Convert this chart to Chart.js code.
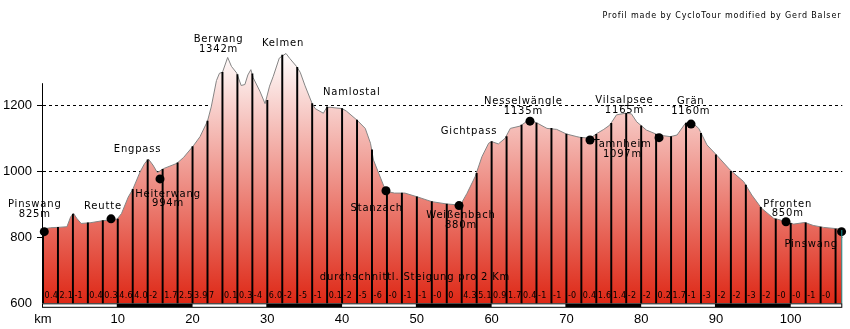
<!DOCTYPE html>
<html lang="de">
<head>
<meta charset="UTF-8">
<title>Höhenprofil Pinswang - Berwang - Tannheimer Tal</title>
<script src="https://cdn.jsdelivr.net/npm/chart.js@4.4.1/dist/chart.umd.min.js"></script>
<style>
  html, body { margin: 0; padding: 0; background: #fff; }
  #wrap { width: 850px; height: 329px; }
</style>
</head>
<body>
<div id="wrap"><canvas id="profil"></canvas></div>
<script>
// Höhenprofil: Kilometer / Höhe in m
const kmPoints = [0, 1, 1.9, 3.2, 3.7, 4.1, 4.5, 5.1, 6.3, 7.9, 9, 9.9, 10.5, 11.4, 12, 13, 13.6, 14.1, 14.7, 15.3,
  16.1, 17.9, 18.8, 20.1, 21, 22, 22.5, 23.2, 23.6, 24, 24.7, 25.2, 25.9, 26.5, 27, 27.4, 27.8, 28.1, 29, 29.7,
  30.3, 30.8, 31.6, 32.5, 33, 33.9, 34.4, 35.05, 36, 36.4, 37.5, 37.9, 38.4, 40, 40.6, 42, 43.1, 43.8, 44.2, 44.9,
  45.6, 46.2, 47, 48.4, 50, 52, 54, 55.1, 56, 56.7, 57.8, 58.7, 59.6, 60, 60.9, 61.8, 62.5, 63.8, 65, 66.1,
  67.4, 68.7, 70, 71.4, 71.8, 73.2, 74.1, 75, 75.8, 76.7, 77.9, 78.7, 79.4, 80.7, 82.3, 83.9, 84.8, 85.9, 86.7, 87.7,
  88.8, 90.1, 91.9, 93.7, 94.8, 96.1, 97.7, 99.5, 100.4, 101.9, 103, 104.4, 106.2, 106.9];
const elevations = [825, 829, 830, 832, 862, 872, 858, 842, 844, 850, 853, 855, 872, 922, 945, 999, 1024, 1037, 1019, 996,
  1008, 1024, 1042, 1077, 1105, 1152, 1195, 1275, 1297, 1300, 1345, 1318, 1298, 1260, 1263, 1292, 1308, 1284, 1243, 1205,
  1258, 1288, 1343, 1357, 1342, 1318, 1300, 1259, 1205, 1190, 1176, 1192, 1194, 1190, 1182, 1155, 1130, 1085, 1034, 994,
  954, 938, 934, 934, 923, 908, 901, 899, 905, 933, 984, 1044, 1085, 1090, 1083, 1100, 1130, 1137, 1156, 1146,
  1130, 1127, 1113, 1105, 1103, 1100, 1115, 1127, 1140, 1171, 1176, 1174, 1150, 1125, 1110, 1105, 1110, 1145, 1150, 1130,
  1080, 1049, 1004, 969, 928, 888, 858, 847, 840, 845, 836, 830, 826, 822];

// senkrechte Striche alle 2 km
const barKm = [0, 2, 4, 6, 8, 10, 12, 14, 16, 18, 20, 22, 24, 26, 28, 30, 32, 34, 36, 38, 40, 42, 44, 46, 48, 50, 52,
  54, 56, 58, 60, 62, 64, 66, 68, 70, 72, 74, 76, 78, 80, 82, 84, 86, 88, 90, 92, 94, 96, 98, 100, 102, 104, 106];
const barElev = [825, 830, 870, 844, 851, 855, 945, 1035, 1006, 1026, 1075, 1152, 1300, 1293, 1295, 1215, 1352, 1315,
  1205, 1195, 1190, 1155, 1065, 941, 934, 923, 908, 901, 905, 994, 1090, 1105, 1140, 1146, 1130, 1113, 1103, 1112,
  1145, 1176, 1138, 1112, 1105, 1146, 1115, 1050, 1000, 958, 891, 855, 842, 844, 831, 825];

// durchschnittl. Steigung pro 2 km (%)
const slopes = ['0.4', '2.1', '-1', '0.4', '0.3', '4.6', '4.0', '-2', '1.7', '2.5', '3.9', '7', '0.1', '0.3', '-4',
  '6.0', '-2', '-5', '-1', '0.1', '-2', '-5', '-6', '-0', '-1', '-1', '-0', '0', '4.3', '5.1', '0.9', '1.7', '0.4',
  '-1', '-1', '-0', '0.4', '1.6', '1.4', '-2', '-2', '0.2', '1.7', '-1', '-3', '-2', '-2', '-3', '-2', '-0', '-0',
  '-1', '-0'];

// Orte (Punkte)
const townKm = [0.17, 9.1, 15.65, 45.87, 55.64, 65.13, 73.16, 82.39, 86.67, 99.37, 106.8];
const townElev = [817, 856, 977, 941, 896, 1152, 1095, 1102, 1143, 847, 817];

const xTicks = [0, 10, 20, 30, 40, 50, 60, 70, 80, 90, 100];
const xTickLabels = ['km', '10', '20', '30', '40', '50', '60', '70', '80', '90', '100'];
const yTicks = [600, 800, 1000, 1200];

// Beschriftungen (Ankerpunkt in km / m)
const labelLayout = [
  { lines: ['Pinswang', '825m'], km: -1.1, elev: 891 },
  { lines: ['Reutte'], km: 8.02, elev: 885 },
  { lines: ['Engpass'], km: 12.64, elev: 1058 },
  { lines: ['Heiterwang', '994m'], km: 16.72, elev: 923 },
  { lines: ['Berwang', '1342m'], km: 23.47, elev: 1391 },
  { lines: ['Kelmen'], km: 32.1, elev: 1379 },
  { lines: ['Namlostal'], km: 41.3, elev: 1231 },
  { lines: ['Stanzach'], km: 44.63, elev: 881 },
  { lines: ['Weißenbach', '880m'], km: 55.9, elev: 858 },
  { lines: ['Gichtpass'], km: 56.97, elev: 1112 },
  { lines: ['Nesselwängle', '1135m'], km: 64.24, elev: 1203 },
  { lines: ['Tamnheim', '1097m'], km: 77.5, elev: 1073 },
  { lines: ['Vilsalpsee', '1165m'], km: 77.76, elev: 1206 },
  { lines: ['Grän', '1160m'], km: 86.63, elev: 1204 },
  { lines: ['Pfronten', '850m'], km: 99.6, elev: 893 },
  { lines: ['Pinswang'], km: 102.74, elev: 770 },
  { lines: ['durchschnittl. Steigung pro 2 Km'], km: 49.75, elev: 671 }
];
const credit = 'Profil made by CycloTour modified by Gerd Balser';

const maxKm = kmPoints[kmPoints.length - 1];
const axisTop = 1267;

Chart.defaults.font.family = '"Liberation Sans", Arial, sans-serif';
Chart.defaults.color = '#000';

// Deko: km-Balken, Steigungen, Ortsnamen
const decor = {
  id: 'decor',
  afterDraw(chart) {
    const { ctx, chartArea: a, scales: { x, y } } = chart;
    ctx.save();

    // y-Achse
    ctx.strokeStyle = '#000';
    ctx.lineWidth = 1;
    ctx.beginPath();
    ctx.moveTo(a.left - 0.5, y.getPixelForValue(axisTop));
    ctx.lineTo(a.left - 0.5, a.bottom);
    ctx.stroke();

    // Ende (türkis)
    const xe = x.getPixelForValue(maxKm) - 0.5;
    ctx.strokeStyle = '#1a9c9c';
    ctx.beginPath();
    ctx.moveTo(xe, y.getPixelForValue(elevations[elevations.length - 1]));
    ctx.lineTo(xe, a.bottom);
    ctx.stroke();

    // km-Balken
    const top = a.bottom, h = 4.5;
    ctx.fillStyle = '#000';
    ctx.fillRect(a.left - 1, top, a.right - a.left + 1, h);
    for (let k = 0; k < maxKm; k += 10) {
      if ((k / 10) % 2 === 0) {
        const x0 = x.getPixelForValue(k), x1 = x.getPixelForValue(Math.min(k + 10, maxKm));
        ctx.fillStyle = '#fff';
        ctx.fillRect(x0, top + 1, x1 - x0 - 1, h - 2);
      }
    }

    // Steigungen
    ctx.fillStyle = '#000';
    ctx.font = '8px "DejaVu Sans"';
    ctx.letterSpacing = '0.3px';
    ctx.textAlign = 'left';
    ctx.textBaseline = 'alphabetic';
    slopes.forEach((s, i) => {
      ctx.fillText(s, x.getPixelForValue(i * 2) + 1.5, a.bottom - 5);
    });

    // Ortsnamen
    ctx.font = '10px "DejaVu Sans"';
    ctx.letterSpacing = '0.8px';
    ctx.textAlign = 'center';
    labelLayout.forEach(l => {
      const px = x.getPixelForValue(l.km), py = y.getPixelForValue(l.elev);
      l.lines.forEach((t, i) => ctx.fillText(t, px, py + i * 9.7));
    });

    // Hinweis oben rechts
    ctx.font = '8px "DejaVu Sans"';
    ctx.letterSpacing = '0.85px';
    ctx.textAlign = 'right';
    ctx.fillText(credit, a.right - 1, a.top - 21);
    ctx.restore();
  }
};

const ctx = document.getElementById('profil').getContext('2d');
new Chart(ctx, {
  type: 'line',
  data: {
    datasets: [{
      type: 'line',
      label: 'Höhe',
      data: kmPoints.map((k, i) => ({ x: k, y: elevations[i] })),
      borderColor: '#858585',
      borderWidth: 1,
      pointRadius: 0,
      tension: 0,
      fill: 'start',
      backgroundColor: (c) => {
        const { chart } = c;
        if (!chart.chartArea) return 'rgba(224,48,30,0.6)';
        const ys = chart.scales.y;
        const g = chart.ctx.createLinearGradient(0, ys.getPixelForValue(1362), 0, ys.getPixelForValue(600));
        g.addColorStop(0, '#ffffff');
        g.addColorStop(1, 'rgb(222,40,22)');
        return g;
      },
      order: 3
    }, {
      type: 'bar',
      label: 'km',
      data: barKm.map((k, i) => ({ x: k, y: barElev[i] })),
      backgroundColor: '#000',
      barThickness: 1.3,
      order: 2
    }, {
      type: 'line',
      label: 'Orte',
      data: townKm.map((k, i) => ({ x: k, y: townElev[i] })),
      showLine: false,
      pointRadius: 4.5,
      pointBackgroundColor: '#000',
      pointBorderWidth: 0,
      clip: false,
      order: 1
    }]
  },
  options: {
    responsive: true,
    maintainAspectRatio: false,
    animation: false,
    layout: { padding: { top: 39.3, right: 7.7, left: 0, bottom: 0 } },
    plugins: { legend: { display: false }, tooltip: { enabled: false } },
    scales: {
      x: {
        type: 'linear',
        min: 0,
        max: maxKm,
        offset: false,
        afterBuildTicks: s => { s.ticks = xTicks.map(v => ({ value: v })); },
        afterFit: s => { s.height = 25.7; },
        grid: { display: false, drawTicks: false },
        border: { display: false },
        ticks: {
          autoSkip: false,
          maxRotation: 0,
          padding: 8,
          font: { size: 13 },
          callback: v => xTickLabels[xTicks.indexOf(v)]
        }
      },
      y: {
        type: 'linear',
        min: 600,
        max: 1400,
        z: 1,
        afterBuildTicks: s => { s.ticks = yTicks.map(v => ({ value: v })); },
        afterFit: s => { s.width = 43; },
        grid: {
          color: c => (c.tick && c.tick.value === 600) ? 'rgba(0,0,0,0)' : '#000',
          tickColor: c => (c.tick && c.tick.value === 600) ? 'rgba(0,0,0,0)' : '#000',
          tickBorderDash: [],
          lineWidth: 1,
          drawTicks: true,
          tickLength: 6
        },
        border: { display: false, dash: [3, 3] },
        ticks: { padding: 5, font: { size: 13 }, callback: v => String(v) }
      }
    }
  },
  plugins: [decor]
});
</script>
</body>
</html>
